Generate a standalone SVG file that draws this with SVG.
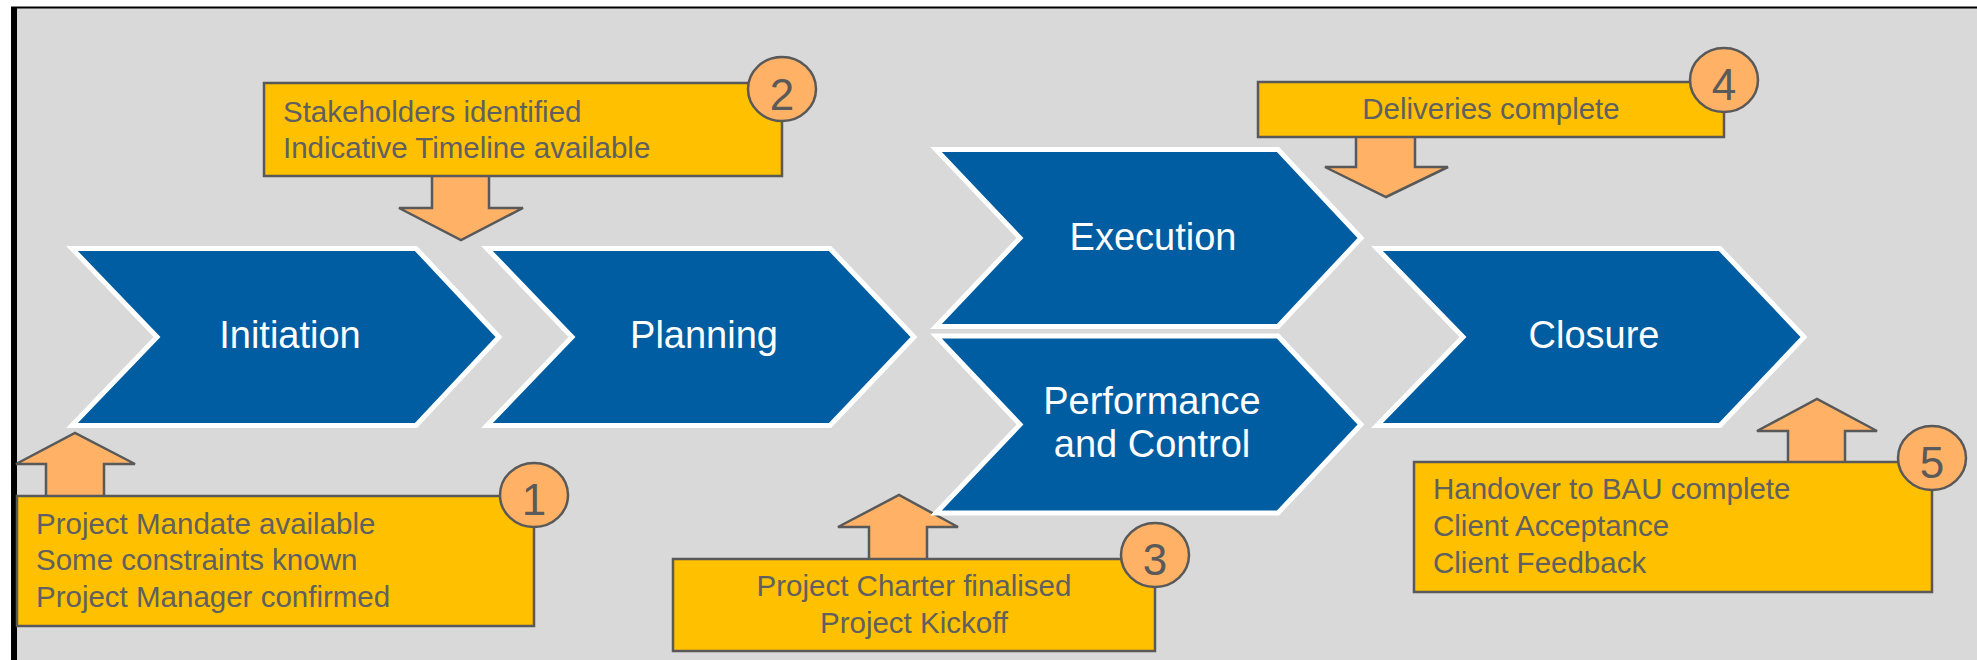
<svg xmlns="http://www.w3.org/2000/svg" width="1977" height="660" viewBox="0 0 1977 660">
<style>
.chev{fill:#005da1;stroke:#ffffff;stroke-width:5;stroke-linejoin:miter;stroke-miterlimit:10}
.ct{font-family:"Liberation Sans",Arial,sans-serif;font-size:38px;fill:#ffffff;text-anchor:middle}
.box{fill:#ffc000;stroke:#595959;stroke-width:2.5}
.arr{fill:#ffb266;stroke:#595959;stroke-width:2.5;stroke-linejoin:miter}
.num{fill:#ffb266;stroke:#595959;stroke-width:2.5}
.bt{font-family:"Liberation Sans",Arial,sans-serif;font-size:29.5px;fill:#606060}
.nt{font-family:"Liberation Sans",Arial,sans-serif;font-size:44px;fill:#5a5a5a;text-anchor:middle}
</style>
<rect x="0" y="0" width="1977" height="660" fill="#ffffff"/>
<rect x="11" y="6.5" width="1966" height="653.5" fill="#000000"/>
<rect x="17" y="8.5" width="1960" height="651.5" fill="#d9d9d9"/>

<g id="connectors">
  <polygon class="arr" points="46,497 46,464 16,464 75,433 135,464 104,464 104,497"/>
  <polygon class="arr" points="432,175 489,175 489,208 523,208 461,240 399,208 432,208"/>
  <polygon class="arr" points="869,560 869,527 838,527 899,495 958,527 927,527 927,560"/>
  <polygon class="arr" points="1356,136 1415,136 1415,167 1448,167 1386,197 1325,167 1356,167"/>
  <polygon class="arr" points="1788,463 1788,431 1757,431 1817,399 1877,431 1845,431 1845,463"/>
</g>

<g id="initiation">
  <polygon class="chev" points="72,248.5 416,248.5 499,337 416,425.5 72,425.5 157,337"/>
  <text class="ct" x="290" y="348">Initiation</text>
</g>
<g id="planning">
  <polygon class="chev" points="487,248.5 830,248.5 914,337 830,425.5 487,425.5 572,337"/>
  <text class="ct" x="704" y="348">Planning</text>
</g>
<g id="execution">
  <polygon class="chev" points="936,149.5 1278,149.5 1361,238 1278,326.5 936,326.5 1020,238"/>
  <text class="ct" x="1153" y="250">Execution</text>
</g>
<g id="performance">
  <polygon class="chev" points="936,336 1278,336 1361,424.5 1278,513 936,513 1020,424.5"/>
  <text class="ct" x="1152" y="414">Performance</text>
  <text class="ct" x="1152" y="457">and Control</text>
</g>
<g id="closure">
  <polygon class="chev" points="1377,248.5 1720,248.5 1804,337 1720,425.5 1377,425.5 1463,337"/>
  <text class="ct" x="1594" y="348">Closure</text>
</g>

<g id="callout1">
  <rect class="box" x="17" y="496" width="517" height="130"/>
  <text class="bt" x="36" y="534">Project Mandate available</text>
  <text class="bt" x="36" y="570">Some constraints known</text>
  <text class="bt" x="36" y="607">Project Manager confirmed</text>
  <ellipse class="num" cx="534" cy="495" rx="34" ry="32"/>
  <text class="nt" x="534" y="515">1</text>
</g>
<g id="callout2">
  <rect class="box" x="264" y="83" width="518" height="93"/>
  <text class="bt" x="283" y="122">Stakeholders identified</text>
  <text class="bt" x="283" y="158">Indicative Timeline available</text>
  <ellipse class="num" cx="782" cy="89" rx="34" ry="32"/>
  <text class="nt" x="782" y="110">2</text>
</g>
<g id="callout3">
  <rect class="box" x="673" y="559" width="482" height="92"/>
  <text class="bt" x="914" y="596" text-anchor="middle">Project Charter finalised</text>
  <text class="bt" x="914" y="633" text-anchor="middle">Project Kickoff</text>
  <ellipse class="num" cx="1155" cy="555" rx="34" ry="32"/>
  <text class="nt" x="1155" y="575">3</text>
</g>
<g id="callout4">
  <rect class="box" x="1258" y="82" width="466" height="55"/>
  <text class="bt" x="1491" y="119" text-anchor="middle">Deliveries complete</text>
  <ellipse class="num" cx="1724" cy="80" rx="34" ry="32"/>
  <text class="nt" x="1724" y="100">4</text>
</g>
<g id="callout5">
  <rect class="box" x="1414" y="462" width="518" height="130"/>
  <text class="bt" x="1433" y="499">Handover to BAU complete</text>
  <text class="bt" x="1433" y="536">Client Acceptance</text>
  <text class="bt" x="1433" y="573">Client Feedback</text>
  <ellipse class="num" cx="1932" cy="458" rx="34" ry="32"/>
  <text class="nt" x="1932" y="478">5</text>
</g>
</svg>
